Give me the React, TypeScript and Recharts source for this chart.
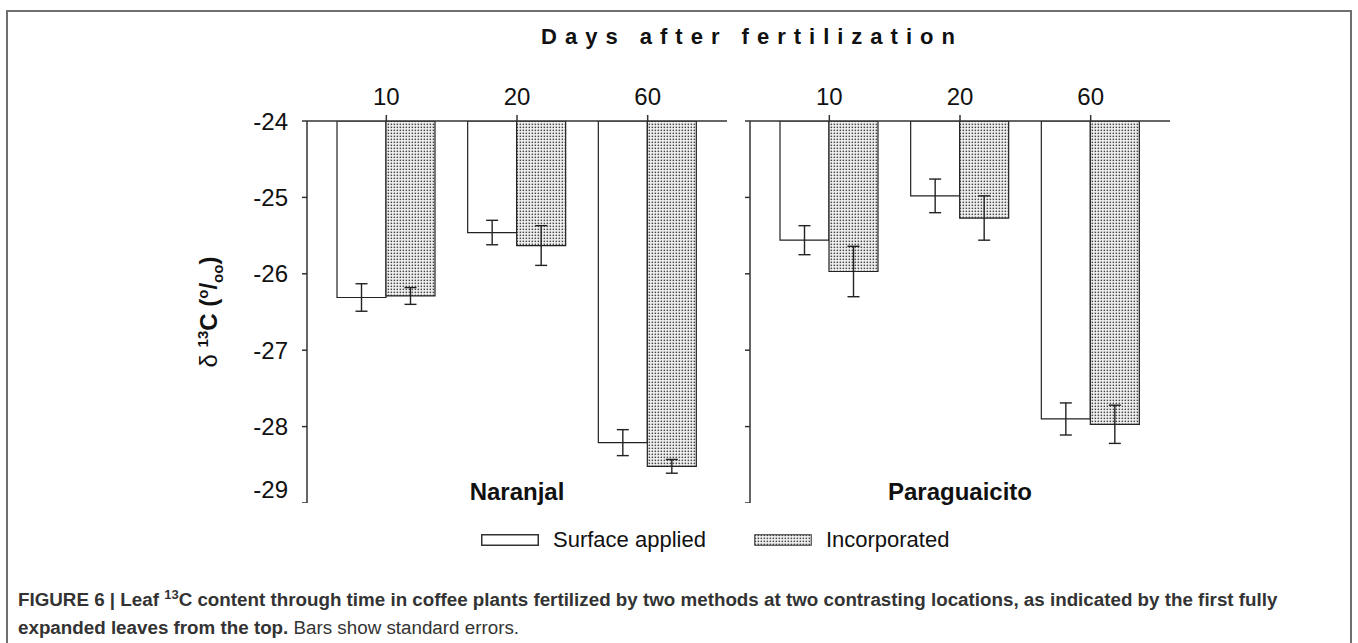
import { BarChart, Bar, XAxis, YAxis, ErrorBar } from 'recharts';

const days = ['10', '20', '60'];
const yTicks = [-24, -25, -26, -27, -28, -29];

// Naranjal
const naranjalSurface = [-26.31, -25.46, -28.21];
const naranjalSurfaceSe = [0.18, 0.16, 0.17];
const naranjalIncorporated = [-26.29, -25.63, -28.52];
const naranjalIncorporatedSe = [0.11, 0.26, 0.09];

// Paraguaicito
const paraSurface = [-25.56, -24.98, -27.9];
const paraSurfaceSe = [0.19, 0.22, 0.21];
const paraIncorporated = [-25.97, -25.27, -27.97];
const paraIncorporatedSe = [0.33, 0.29, 0.25];

const font = '"Liberation Sans", Arial, sans-serif';
const ink = '#222';

const buildRows = (surf: number[], surfSe: number[], inc: number[], incSe: number[]) =>
  days.map((day, i) => ({
    day,
    surface: surf[i],
    surfaceSe: surfSe[i],
    incorporated: inc[i],
    incorporatedSe: incSe[i],
  }));

const naranjalRows = buildRows(naranjalSurface, naranjalSurfaceSe, naranjalIncorporated, naranjalIncorporatedSe);
const paraRows = buildRows(paraSurface, paraSurfaceSe, paraIncorporated, paraIncorporatedSe);

const DotPattern = ({ id }: { id: string }) => (
  <pattern id={id} width={3} height={3} patternUnits="userSpaceOnUse">
    <rect width={3} height={3} fill="#f3f3f3" />
    <rect x={0.6} y={0.6} width={1.5} height={1.5} fill="#444" />
  </pattern>
);

interface PanelProps {
  rows: ReturnType<typeof buildRows>;
  left: number;
  yWidth: number;
  width: number;
  showLabels: boolean;
  patternId: string;
}

function Panel({ rows, left, yWidth, width, showLabels, patternId }: PanelProps) {
  return (
    <div style={{ position: 'absolute', left, top: 60 }}>
      <BarChart
        width={width}
        height={443}
        data={rows}
        margin={{ top: 0, right: 10, bottom: 0, left: 0 }}
        barSize={49}
        barGap={0}
      >
        <defs>
          <DotPattern id={patternId} />
        </defs>
        <XAxis
          dataKey="day"
          orientation="top"
          height={61}
          padding={{ left: 14, right: 14 }}
          axisLine={{ stroke: '#333', strokeWidth: 1.5 }}
          tickLine={{ stroke: '#333', strokeWidth: 1.5 }}
          tickSize={6}
          tickMargin={10}
          tick={{ fontSize: 24, fill: '#111', fontFamily: font }}
        />
        <YAxis
          type="number"
          domain={[-29, -24]}
          ticks={yTicks}
          allowDataOverflow
          width={yWidth}
          axisLine={{ stroke: '#333', strokeWidth: 1.5 }}
          tickLine={{ stroke: '#333', strokeWidth: 1.5 }}
          tickSize={5}
          tickMargin={14}
          tick={{ fontSize: 24, fill: '#111', fontFamily: font }}
          tickFormatter={showLabels ? (v: number) => String(v) : () => ''}
        />
        <Bar dataKey="surface" name="Surface applied" fill="#fff" stroke={ink} strokeWidth={1.2} isAnimationActive={false}>
          <ErrorBar dataKey="surfaceSe" direction="y" width={6} stroke={ink} strokeWidth={1.4} />
        </Bar>
        <Bar
          dataKey="incorporated"
          name="Incorporated"
          fill={`url(#${patternId})`}
          stroke={ink}
          strokeWidth={1.2}
          isAnimationActive={false}
        >
          <ErrorBar dataKey="incorporatedSe" direction="y" width={6} stroke={ink} strokeWidth={1.4} />
        </Bar>
      </BarChart>
    </div>
  );
}

const frameLine = { position: 'absolute' as const, background: '#6f6f6f' };

export default function App() {
  return (
    <div
      style={{
        position: 'fixed',
        left: 0,
        top: 0,
        width: 1358,
        height: 643,
        overflow: 'hidden',
        background: '#fff',
        fontFamily: font,
      }}
    >
      {/* figure frame */}
      <div style={{ ...frameLine, left: 6, top: 10, width: 1346, height: 2 }} />
      <div style={{ ...frameLine, left: 6, top: 10, width: 2, height: 640 }} />
      <div style={{ ...frameLine, left: 1350, top: 10, width: 2, height: 640 }} />

      {/* title */}
      <div
        style={{
          position: 'absolute',
          left: 0,
          top: 24,
          width: 1504,
          textAlign: 'center',
          fontWeight: 700,
          fontSize: 22,
          letterSpacing: 8,
          color: '#111',
        }}
      >
        Days after fertilization
      </div>

      {/* y label */}
      <div
        style={{
          position: 'absolute',
          left: 210,
          top: 312,
          transform: 'translate(-50%, -50%) rotate(-90deg)',
          whiteSpace: 'nowrap',
          fontSize: 24,
          color: '#111',
        }}
      >
        δ <b><sup style={{ fontSize: 15 }}>13</sup>C (<sup style={{ fontSize: 15 }}>o</sup>/<sub style={{ fontSize: 15 }}>oo</sub>)</b>
      </div>

      <Panel rows={naranjalRows} left={180} yWidth={127} width={557} showLabels patternId="dots-n" />
      <Panel rows={paraRows} left={740} yWidth={10} width={440} showLabels={false} patternId="dots-p" />

      {/* location labels */}
      <div style={{ position: 'absolute', left: 417, top: 478, width: 200, textAlign: 'center', fontWeight: 700, fontSize: 24, color: '#111' }}>
        Naranjal
      </div>
      <div style={{ position: 'absolute', left: 860, top: 478, width: 200, textAlign: 'center', fontWeight: 700, fontSize: 24, color: '#111' }}>
        Paraguaicito
      </div>

      {/* legend */}
      <div style={{ position: 'absolute', left: 481, top: 527, display: 'flex', alignItems: 'center', fontSize: 22, color: '#111' }}>
        <svg width={58} height={12} style={{ marginRight: 14 }}>
          <rect x={0.75} y={0.75} width={56.5} height={10.5} fill="#fff" stroke="#333" strokeWidth={1.5} />
        </svg>
        <span>Surface applied</span>
        <svg width={58} height={12} style={{ marginLeft: 48, marginRight: 14 }}>
          <defs>
            <DotPattern id="dots-legend" />
          </defs>
          <rect x={0.75} y={0.75} width={56.5} height={10.5} fill="url(#dots-legend)" stroke="#333" strokeWidth={1} />
        </svg>
        <span>Incorporated</span>
      </div>

      {/* caption */}
      <div
        style={{
          position: 'absolute',
          left: 18,
          top: 587,
          width: 1300,
          fontSize: 18.8,
          lineHeight: '26px',
          color: '#333',
        }}
      >
        <b>
          FIGURE 6 | Leaf{' '}
          <span style={{ fontSize: 13, position: 'relative', top: -7 }}>13</span>C content through time in coffee plants
          fertilized by two methods at two contrasting locations, as indicated by the first fully expanded leaves from the
          top.
        </b>{' '}
        Bars show standard errors.
      </div>
    </div>
  );
}
